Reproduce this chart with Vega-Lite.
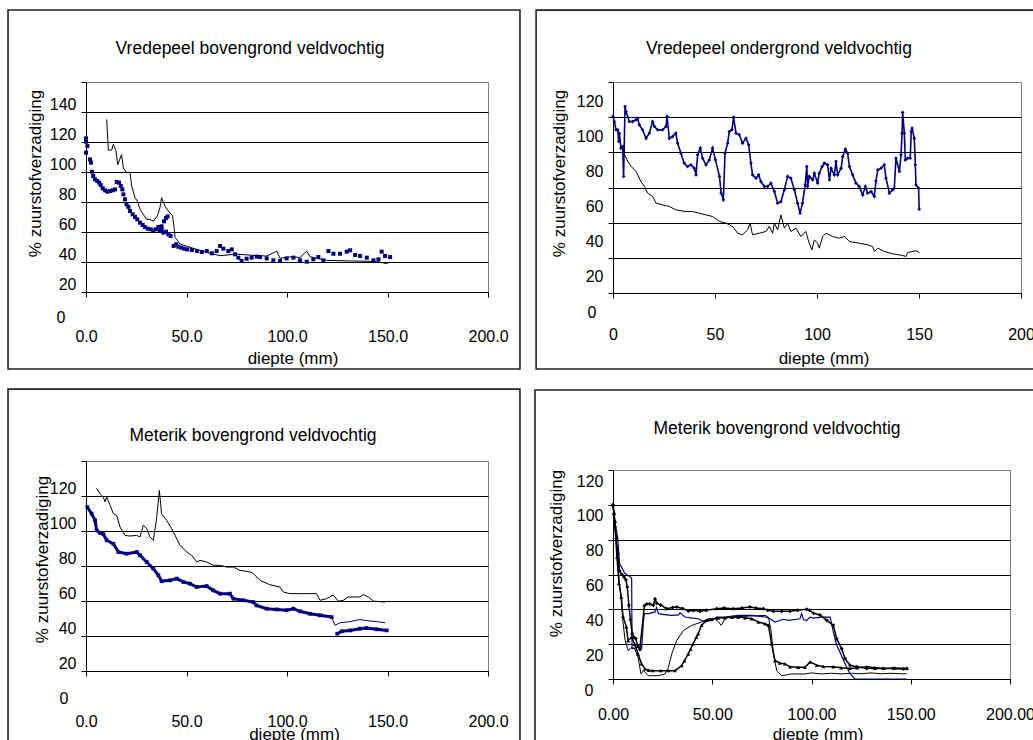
{
  "$schema": "https://vega.github.io/schema/vega-lite/v6.json",
  "padding": {"left": 6, "top": 8, "right": 0, "bottom": 0},
  "spacing": 11,
  "datasets": {
    "p1b": [{"d":0,"v":102.4},{"d":0,"v":100.2},{"d":0.7,"v":97.3},{"d":0,"v":92.9},{"d":2,"v":88.4},{"d":2.5,"v":86.2},{"d":3,"v":80.2},{"d":3.6,"v":77.3},{"d":4.5,"v":75.1},{"d":5.6,"v":74},{"d":6.6,"v":72.9},{"d":7.3,"v":71.3},{"d":8.3,"v":69.1},{"d":9.5,"v":67.8},{"d":10.6,"v":66.9},{"d":11.9,"v":67.3},{"d":13.3,"v":67.8},{"d":14.4,"v":68.4},{"d":15.3,"v":73.3},{"d":16.4,"v":72.9},{"d":17.3,"v":70.7},{"d":18.1,"v":68.4},{"d":18.6,"v":65.1},{"d":19.4,"v":61.8},{"d":20.2,"v":58.4},{"d":21.1,"v":56.7},{"d":21.9,"v":54},{"d":23.2,"v":51.8},{"d":24.4,"v":50},{"d":25.5,"v":48.4},{"d":26.9,"v":46.2},{"d":28.2,"v":44.7},{"d":29.4,"v":43.3},{"d":30.7,"v":42.2},{"d":32.2,"v":41.8},{"d":33.5,"v":41.1},{"d":34.8,"v":41.8},{"d":36,"v":43.3},{"d":36.8,"v":40.7},{"d":37.6,"v":41.8},{"d":38.5,"v":39.6},{"d":39.8,"v":40.2},{"d":41,"v":38.4},{"d":42.1,"v":37.3},{"d":37.6,"v":43.8},{"d":38.8,"v":47.1},{"d":39.8,"v":49.3},{"d":40.6,"v":50.4},{"d":43.6,"v":30.7},{"d":44.8,"v":31.8},{"d":45.9,"v":30.2},{"d":47.3,"v":29.6},{"d":48.8,"v":28.9},{"d":50.4,"v":28.4},{"d":52.7,"v":28},{"d":55.2,"v":27.3},{"d":57.6,"v":26.7},{"d":60.1,"v":27.3},{"d":62.6,"v":25.8},{"d":65,"v":27.3},{"d":66.7,"v":30.7},{"d":68.3,"v":28.9},{"d":70.8,"v":27.3},{"d":72.5,"v":28.4},{"d":74.1,"v":25.1},{"d":75.8,"v":22.9},{"d":77.4,"v":20.7},{"d":79.9,"v":22.2},{"d":82.4,"v":22.9},{"d":84.9,"v":23.6},{"d":86.6,"v":23.3},{"d":89.9,"v":22.4},{"d":93.2,"v":21.1},{"d":96.5,"v":20.7},{"d":99.8,"v":22.4},{"d":103.2,"v":22.9},{"d":106.5,"v":21.1},{"d":109.8,"v":20.2},{"d":113.1,"v":21.8},{"d":115.6,"v":23.3},{"d":118.1,"v":21.1},{"d":120.6,"v":27.3},{"d":123.1,"v":25.5},{"d":126.4,"v":25.5},{"d":129.7,"v":26.9},{"d":131.4,"v":27.8},{"d":133.9,"v":24.7},{"d":136.4,"v":24},{"d":139.7,"v":22.9},{"d":143,"v":21.1},{"d":145.5,"v":21.8},{"d":147.1,"v":26.9},{"d":148.8,"v":24},{"d":151.3,"v":23.3}],
    "p1z": [{"d":10.3,"v":115.1},{"d":11.1,"v":94.6},{"d":12.8,"v":94.6},{"d":13.6,"v":98.4},{"d":14.9,"v":94.2},{"d":15.8,"v":84.9},{"d":17.7,"v":91.6},{"d":18.6,"v":82.7},{"d":20.2,"v":79.8},{"d":21.9,"v":79.8},{"d":22.7,"v":70.7},{"d":24.4,"v":62.9},{"d":25.5,"v":60.7},{"d":26.9,"v":55.1},{"d":28.5,"v":51.8},{"d":30.2,"v":48.4},{"d":31.8,"v":48.4},{"d":33.5,"v":47.3},{"d":35.5,"v":50.7},{"d":36.8,"v":56.2},{"d":37.6,"v":62.9},{"d":39.3,"v":57.3},{"d":41,"v":54},{"d":43.1,"v":50.7},{"d":43.8,"v":43.1},{"d":44.3,"v":36.4},{"d":46.8,"v":32},{"d":51.7,"v":29.8},{"d":60.1,"v":26.4},{"d":66.7,"v":24.2},{"d":75,"v":25.3},{"d":85,"v":24.2},{"d":90,"v":24},{"d":94.9,"v":27.3},{"d":96.5,"v":22.5},{"d":102,"v":23.5},{"d":106.5,"v":23},{"d":109.8,"v":27.3},{"d":111.5,"v":23.5},{"d":119.7,"v":21.1},{"d":131.3,"v":20.7},{"d":140,"v":20.5},{"d":145,"v":20.2},{"d":149.6,"v":18.9},{"d":151.1,"v":20}],
    "p2b": [{"d":0,"v":100.4},{"d":0.65,"v":97.5},{"d":1.5,"v":92.8},{"d":2.3,"v":92.8},{"d":2.8,"v":86.2},{"d":3.1,"v":90.9},{"d":3.9,"v":82.4},{"d":4.7,"v":83.3},{"d":5.2,"v":66.3},{"d":5.9,"v":106},{"d":6.4,"v":103.2},{"d":8,"v":97.5},{"d":9.6,"v":97.5},{"d":11.3,"v":98.5},{"d":12.1,"v":99.4},{"d":12.9,"v":95.6},{"d":14.5,"v":92.8},{"d":16.2,"v":88},{"d":17.8,"v":90.9},{"d":19.4,"v":97.5},{"d":20.3,"v":94.7},{"d":21.9,"v":92.8},{"d":24.3,"v":92.8},{"d":26,"v":94.7},{"d":26.5,"v":100.4},{"d":27.6,"v":88},{"d":29.2,"v":89},{"d":30.8,"v":90.9},{"d":31.7,"v":85.2},{"d":33.3,"v":79.5},{"d":34.9,"v":73.8},{"d":36.5,"v":71.9},{"d":38.2,"v":72.9},{"d":39.8,"v":71},{"d":40.7,"v":67.2},{"d":41.5,"v":78.6},{"d":42.8,"v":82.4},{"d":43.9,"v":76.7},{"d":45.6,"v":72.9},{"d":47.2,"v":75.7},{"d":48.8,"v":82.4},{"d":50.2,"v":75.7},{"d":52.2,"v":66.3},{"d":53,"v":56.8},{"d":54.1,"v":53},{"d":54.9,"v":79.5},{"d":56.2,"v":85.2},{"d":57,"v":91.8},{"d":58.3,"v":92.8},{"d":59.1,"v":100},{"d":60.3,"v":90.9},{"d":61.9,"v":90},{"d":63.5,"v":85.2},{"d":65.2,"v":88},{"d":66.5,"v":84.3},{"d":67.6,"v":73.8},{"d":68.4,"v":67.2},{"d":70.1,"v":65.3},{"d":71.4,"v":67.2},{"d":72.5,"v":63.4},{"d":74.2,"v":60.6},{"d":75.8,"v":60.6},{"d":77.4,"v":62.5},{"d":79.1,"v":57.7},{"d":80.7,"v":51.1},{"d":82.3,"v":52},{"d":84,"v":58.7},{"d":85.6,"v":66.3},{"d":87.2,"v":65.3},{"d":88.9,"v":58.7},{"d":90.5,"v":51.1},{"d":91.7,"v":45.4},{"d":92.9,"v":51.1},{"d":94.2,"v":61.5},{"d":95,"v":71.9},{"d":95.4,"v":60.6},{"d":96.2,"v":66.3},{"d":97.9,"v":64.4},{"d":98.7,"v":68.1},{"d":100.3,"v":62.5},{"d":101.1,"v":68.1},{"d":102.5,"v":71.9},{"d":103.6,"v":73.8},{"d":105.2,"v":72.9},{"d":106.1,"v":64.4},{"d":106.9,"v":70.9},{"d":108.5,"v":67.2},{"d":109.3,"v":74.8},{"d":110.1,"v":67.2},{"d":111.8,"v":70.9},{"d":112.6,"v":77.6},{"d":113.9,"v":81.8},{"d":115,"v":79.5},{"d":115.9,"v":71.9},{"d":117.5,"v":67.2},{"d":119.1,"v":62.5},{"d":120.7,"v":60.6},{"d":122.4,"v":55.8},{"d":123.7,"v":60.6},{"d":124.8,"v":56.8},{"d":126.5,"v":57.7},{"d":128.1,"v":54.9},{"d":128.9,"v":63.8},{"d":129.8,"v":70},{"d":131.4,"v":71},{"d":133,"v":72.9},{"d":133.8,"v":65.3},{"d":135.5,"v":56.8},{"d":137.1,"v":58.7},{"d":137.9,"v":59.6},{"d":138.7,"v":76.7},{"d":140.4,"v":69.1},{"d":141.2,"v":78.6},{"d":141.7,"v":90.9},{"d":142,"v":102.7},{"d":142.8,"v":90.9},{"d":143.3,"v":75.7},{"d":144.4,"v":76.7},{"d":145.7,"v":76.7},{"d":146.2,"v":91.8},{"d":146.6,"v":93.7},{"d":147.7,"v":88},{"d":148.2,"v":72.9},{"d":148.5,"v":61.5},{"d":149.8,"v":59.6},{"d":150.1,"v":47.7}],
    "p2z": [{"d":4.8,"v":83},{"d":5.7,"v":78.6},{"d":7.3,"v":74.8},{"d":9,"v":71.9},{"d":11.3,"v":69.1},{"d":13.7,"v":63.4},{"d":15.4,"v":60.6},{"d":17,"v":56.8},{"d":19.4,"v":54.9},{"d":21.1,"v":51.1},{"d":24.3,"v":50.1},{"d":27.6,"v":49.2},{"d":30.8,"v":47.3},{"d":35.7,"v":46.3},{"d":39,"v":46.3},{"d":42.3,"v":45.4},{"d":45.6,"v":44.4},{"d":48.8,"v":43.5},{"d":52.2,"v":40.7},{"d":55.4,"v":39.7},{"d":58.7,"v":37.8},{"d":61.1,"v":34},{"d":63.5,"v":33.1},{"d":66,"v":35.9},{"d":67.2,"v":39.7},{"d":68.4,"v":33.1},{"d":71.7,"v":34},{"d":75,"v":35},{"d":76.6,"v":37.8},{"d":78.2,"v":34},{"d":79.1,"v":39.7},{"d":80.7,"v":35.9},{"d":82.3,"v":44.4},{"d":84,"v":36.9},{"d":85.6,"v":39.7},{"d":87.2,"v":35},{"d":89.7,"v":36.9},{"d":92.1,"v":32.1},{"d":94.5,"v":35},{"d":96.2,"v":28.3},{"d":97.5,"v":24.5},{"d":98.7,"v":30.2},{"d":100.3,"v":28.3},{"d":101.1,"v":25.5},{"d":102.8,"v":32.1},{"d":104.4,"v":34},{"d":107.7,"v":32.1},{"d":110.9,"v":31.2},{"d":113.4,"v":32.1},{"d":115.9,"v":29.3},{"d":120.7,"v":28.3},{"d":124.8,"v":27.4},{"d":127.3,"v":26.4},{"d":128.1,"v":23.6},{"d":129.8,"v":25.5},{"d":133,"v":23.6},{"d":137.1,"v":22.3},{"d":141.2,"v":21.5},{"d":143.6,"v":20.8},{"d":144.4,"v":23},{"d":146.9,"v":23.6},{"d":148.5,"v":24.1},{"d":150.1,"v":23}],
    "p3a": [{"d":0.65,"v":93.7},{"d":2.8,"v":89.9},{"d":4.5,"v":86.1},{"d":5.3,"v":80.4},{"d":7,"v":78.9},{"d":8.6,"v":78.3},{"d":10.3,"v":74.7},{"d":13.6,"v":72.7},{"d":16.1,"v":68},{"d":20.2,"v":67},{"d":25.2,"v":68},{"d":26.9,"v":66.1},{"d":30.2,"v":62.3},{"d":33.5,"v":58.5},{"d":36,"v":54.7},{"d":37.6,"v":51.3},{"d":41.8,"v":51.8},{"d":45.1,"v":52.8},{"d":48.4,"v":50.9},{"d":51.7,"v":49.9},{"d":55.1,"v":48},{"d":60,"v":48.5},{"d":63.3,"v":46.1},{"d":66.7,"v":44.2},{"d":71.6,"v":44.2},{"d":73.3,"v":41.3},{"d":78.3,"v":40.4},{"d":83.2,"v":39.4},{"d":84.8,"v":37.5},{"d":89.9,"v":35.6},{"d":94.9,"v":35.2},{"d":99.8,"v":34.7},{"d":103.2,"v":35.6},{"d":106.5,"v":34.1},{"d":111.4,"v":32.7},{"d":116.4,"v":31.8},{"d":122.2,"v":30.8}],
    "p3a2": [{"d":122.2,"v":30.8},{"d":123.9,"v":26.1},{"d":126.5,"v":27.6},{"d":131.4,"v":28.2},{"d":136.3,"v":29.4},{"d":139.6,"v":28.8},{"d":144.6,"v":28.2},{"d":148.8,"v":27.6}],
    "p3b": [{"d":125,"v":21.3},{"d":127.3,"v":22.7},{"d":131.4,"v":23.2},{"d":136.3,"v":24.2},{"d":139.6,"v":24.5},{"d":144.6,"v":23.8},{"d":149.6,"v":23.2}],
    "p3z": [{"d":5.3,"v":104.2},{"d":7,"v":101.3},{"d":8.6,"v":99.4},{"d":9.5,"v":96.6},{"d":10.3,"v":99.4},{"d":12,"v":94.7},{"d":13.6,"v":89.9},{"d":15.3,"v":88.9},{"d":16.9,"v":82.3},{"d":19.4,"v":77.5},{"d":21.9,"v":77.1},{"d":25.2,"v":77.5},{"d":26.9,"v":76.6},{"d":28.5,"v":83.3},{"d":30.2,"v":81.4},{"d":31.8,"v":76.6},{"d":33.5,"v":74.7},{"d":35.1,"v":87},{"d":36.5,"v":103.2},{"d":37.6,"v":89.9},{"d":40.1,"v":86.1},{"d":42.6,"v":81.4},{"d":46.8,"v":71.8},{"d":50.1,"v":68},{"d":52.6,"v":66.1},{"d":55.1,"v":62.3},{"d":56.7,"v":63.2},{"d":60,"v":62.3},{"d":63.3,"v":60.4},{"d":66.7,"v":60.4},{"d":70,"v":59.4},{"d":73.3,"v":59.4},{"d":76.6,"v":57.5},{"d":81.6,"v":56.6},{"d":83.2,"v":55.7},{"d":86.6,"v":51.8},{"d":91.5,"v":49.3},{"d":96.5,"v":48},{"d":98.2,"v":45.1},{"d":101.5,"v":44.2},{"d":106.5,"v":44.2},{"d":114.8,"v":44.2},{"d":116.4,"v":40.4},{"d":119.7,"v":41.3},{"d":123,"v":43.5},{"d":125.5,"v":39.9},{"d":128,"v":40.4},{"d":130.5,"v":42.3},{"d":136.3,"v":42.3},{"d":137.9,"v":43.7},{"d":140.5,"v":42.3},{"d":143,"v":39.9},{"d":148.8,"v":39.4}],
    "p4s1": [{"d":0,"v":100},{"d":0.5,"v":95},{"d":1,"v":90},{"d":1.6,"v":80.6},{"d":2.4,"v":72},{"d":3.3,"v":62},{"d":4.5,"v":60},{"d":5.5,"v":58.6},{"d":6.5,"v":57},{"d":7.2,"v":52.8},{"d":8,"v":42.3},{"d":8.8,"v":34},{"d":9.7,"v":26},{"d":10.5,"v":24},{"d":11.4,"v":23.2},{"d":12.5,"v":19},{"d":13.5,"v":17},{"d":15.8,"v":42},{"d":17,"v":43},{"d":18.5,"v":43},{"d":20.3,"v":42.3},{"d":21.2,"v":46},{"d":22,"v":43.5},{"d":24,"v":42.5},{"d":27,"v":40.4},{"d":30,"v":41},{"d":32.1,"v":41.3},{"d":35,"v":40.5},{"d":38,"v":39},{"d":40.4,"v":39.4},{"d":43.8,"v":38.9},{"d":47,"v":39.5},{"d":52.2,"v":40.4},{"d":56,"v":40.8},{"d":60.6,"v":40.4},{"d":65,"v":40.8},{"d":69,"v":41.3},{"d":72,"v":40.8},{"d":75.8,"v":40.4},{"d":78,"v":39.5},{"d":80.8,"v":38.9},{"d":85,"v":38.9},{"d":89.2,"v":38.9},{"d":93,"v":39.5},{"d":97.6,"v":40},{"d":99,"v":39.5},{"d":101,"v":37.7},{"d":104.3,"v":36.8},{"d":107.7,"v":33.7},{"d":111,"v":30.8},{"d":112.7,"v":23.1},{"d":115.2,"v":17.4},{"d":116.9,"v":11.7},{"d":119.4,"v":7.9},{"d":122.8,"v":7},{"d":127.8,"v":6.1},{"d":132,"v":6},{"d":136.2,"v":6.1},{"d":141,"v":6},{"d":146.3,"v":5.7},{"d":148,"v":6.1}],
    "p4s2": [{"d":0,"v":100},{"d":1,"v":90},{"d":2.4,"v":80.8},{"d":3.3,"v":66.3},{"d":6,"v":60.6},{"d":8.6,"v":58.7},{"d":9.4,"v":58},{"d":9.6,"v":17.4},{"d":12.6,"v":18.3},{"d":14.4,"v":17.3},{"d":15.3,"v":32.7},{"d":15.8,"v":37.5},{"d":18,"v":37.5},{"d":21.2,"v":38.5},{"d":21.9,"v":41},{"d":22.9,"v":37.5},{"d":26,"v":37},{"d":29.6,"v":36.5},{"d":33,"v":36.8},{"d":33.8,"v":38},{"d":36.3,"v":35.6},{"d":40,"v":35},{"d":43,"v":34.6},{"d":46.3,"v":32.7},{"d":50,"v":34},{"d":52.2,"v":35.5},{"d":56.4,"v":35.6},{"d":63.1,"v":36.5},{"d":69.9,"v":36.5},{"d":74,"v":36},{"d":76.6,"v":35.6},{"d":79.1,"v":34.6},{"d":81.6,"v":32.7},{"d":85.8,"v":34.3},{"d":88.3,"v":33.7},{"d":94.2,"v":34.6},{"d":95,"v":37.5},{"d":96,"v":34},{"d":97.6,"v":33.7},{"d":99.3,"v":35.5},{"d":101,"v":35},{"d":105,"v":35.5},{"d":109.4,"v":35.5},{"d":111,"v":27},{"d":112.7,"v":19.4},{"d":114.5,"v":15},{"d":116.9,"v":8.8},{"d":119.4,"v":3},{"d":121.9,"v":0},{"d":130,"v":0},{"d":140,"v":0},{"d":148,"v":0}],
    "p4s3": [{"d":0,"v":100},{"d":0.5,"v":95},{"d":1,"v":88},{"d":2,"v":70},{"d":3,"v":55},{"d":4.2,"v":47},{"d":5,"v":36},{"d":6.7,"v":30},{"d":7.6,"v":22},{"d":9.3,"v":24},{"d":11,"v":20},{"d":12.6,"v":14.4},{"d":14.4,"v":8.7},{"d":16.1,"v":5.8},{"d":18,"v":5},{"d":20,"v":4.8},{"d":24,"v":4.8},{"d":28,"v":4.8},{"d":31.2,"v":4.8},{"d":34.6,"v":7.7},{"d":36,"v":10.5},{"d":37.9,"v":14.4},{"d":39,"v":17},{"d":40.4,"v":20.2},{"d":42,"v":24},{"d":42.9,"v":26},{"d":44.6,"v":30.8},{"d":47.1,"v":33.7},{"d":49.7,"v":34.2},{"d":53,"v":35},{"d":56.4,"v":35.2},{"d":60,"v":35.5},{"d":63.1,"v":35.6},{"d":66.5,"v":35.2},{"d":69.9,"v":34.6},{"d":73.2,"v":32.7},{"d":76.6,"v":31.7},{"d":78.3,"v":30.8},{"d":79.9,"v":20.2},{"d":81.6,"v":10.6},{"d":84,"v":9.2},{"d":86.6,"v":8.7},{"d":89.2,"v":7},{"d":93.3,"v":6.7},{"d":96.7,"v":6.7},{"d":99.3,"v":9.8},{"d":102.7,"v":7.9},{"d":106,"v":7.2},{"d":111,"v":7},{"d":115,"v":6.5},{"d":119.4,"v":6.1},{"d":123,"v":6.5},{"d":127.8,"v":7},{"d":132,"v":6.5},{"d":136.2,"v":6.1},{"d":142,"v":6.3},{"d":148,"v":6.1}],
    "p4s4": [{"d":0,"v":100},{"d":1,"v":88},{"d":2,"v":72},{"d":3,"v":58},{"d":4.2,"v":45},{"d":5,"v":33},{"d":6.1,"v":22.1},{"d":7.7,"v":16.3},{"d":9,"v":18},{"d":11,"v":17.3},{"d":12.6,"v":12.5},{"d":14.1,"v":2.9},{"d":15.3,"v":4.8},{"d":17.8,"v":1.9},{"d":20,"v":1.9},{"d":22.9,"v":1.9},{"d":26.2,"v":2.9},{"d":27.9,"v":6.7},{"d":29.6,"v":14.4},{"d":32.1,"v":22.1},{"d":35.5,"v":27.9},{"d":39.7,"v":30.8},{"d":44.6,"v":32.7},{"d":48,"v":34.6},{"d":51.3,"v":34.6},{"d":53,"v":33},{"d":54.5,"v":30.8},{"d":56,"v":33.5},{"d":57.3,"v":35.6},{"d":62,"v":35.8},{"d":66.5,"v":36},{"d":72,"v":36.3},{"d":76.6,"v":36.5},{"d":78.3,"v":35.5},{"d":79.6,"v":27.9},{"d":80.8,"v":14.4},{"d":82.5,"v":4.8},{"d":85,"v":1.9},{"d":88,"v":2.5},{"d":90,"v":2.9},{"d":96.7,"v":2.9},{"d":100,"v":3.5},{"d":105,"v":2.9},{"d":110,"v":3.3},{"d":115,"v":2.9},{"d":120,"v":3.3},{"d":125,"v":3},{"d":130,"v":3.5},{"d":135,"v":3},{"d":140,"v":3.3},{"d":145,"v":3},{"d":148,"v":3}]
  },
  "hconcat": [
    {
      "spacing": 16,
      "vconcat": [
        {
          "width": 402, "height": 210,
          "title": {"text": "Vredepeel bovengrond veldvochtig", "frame": "group", "anchor": "middle", "dx": -37, "offset": -48},
          "layer": [
            {"data": {"values": [{}]}, "mark": {"type": "rect", "filled": false, "stroke": "#222222", "strokeWidth": 1.6},
             "encoding": {
               "x": {"datum": -38.8, "type": "quantitative", "scale": {"domain": [0, 200], "nice": false, "zero": false},
                     "axis": {"values": [0, 50, 100, 150, 200], "format": ".1f", "labelPadding": 39, "title": "diepte (mm)", "titleX": 206.5, "titleY": 66}},
               "x2": {"datum": 215.9},
               "y": {"datum": 188, "type": "quantitative", "scale": {"domain": [0, 140], "nice": false},
                     "axis": {"values": [0, 20, 40, 60, 80, 100, 120, 140], "labelOffset": {"condition": {"test": "datum.value === 0", "value": 25}, "value": 22},
                              "labelPadding": {"condition": {"test": "datum.value === 0", "value": 16}, "value": 5},
                              "title": "% zuurstofverzadiging", "titleX": -51, "titleY": 91,
                              "gridColor": {"condition": {"test": "datum.value >= 140", "value": "#808080"}, "value": "black"}}},
               "y2": {"datum": -51.3}}},
            {
              "encoding": {
                "x": {"field": "d", "type": "quantitative", "scale": {"domain": [0, 200], "nice": false, "zero": false},
                      "axis": {"values": [0, 50, 100, 150, 200], "format": ".1f", "labelPadding": 39, "title": "diepte (mm)", "titleX": 206.5, "titleY": 66}},
                "y": {"field": "v", "type": "quantitative", "scale": {"domain": [0, 140], "nice": false},
                      "axis": {"values": [0, 20, 40, 60, 80, 100, 120, 140], "labelOffset": {"condition": {"test": "datum.value === 0", "value": 25}, "value": 22},
                               "labelPadding": {"condition": {"test": "datum.value === 0", "value": 16}, "value": 5},
                               "title": "% zuurstofverzadiging", "titleX": -51, "titleY": 91,
                               "gridColor": {"condition": {"test": "datum.value >= 140", "value": "#808080"}, "value": "black"}}}
              },
              "layer": [
                {"data": {"name": "p1z"}, "mark": {"type": "line", "color": "black", "strokeWidth": 1}},
                {"data": {"name": "p1b"}, "mark": {"type": "point", "shape": "square", "filled": true, "size": 16, "color": "#000080", "opacity": 1}}
              ]
            }
          ]
        },
        {
          "width": 402, "height": 210,
          "title": {"text": "Meterik bovengrond veldvochtig", "frame": "group", "anchor": "middle", "dx": -34, "offset": -56},
          "layer": [
            {"data": {"values": [{}]}, "mark": {"type": "rect", "filled": false, "stroke": "#222222", "strokeWidth": 1.6},
             "encoding": {
               "x": {"datum": -38.8, "type": "quantitative", "scale": {"domain": [0, 200], "nice": false, "zero": false},
                     "axis": {"values": [0, 50, 100, 150, 200], "format": ".1f", "labelPadding": 45, "title": "diepte (mm)", "titleX": 208, "titleY": 63}},
               "x2": {"datum": 215.9},
               "y": {"datum": 161.1, "type": "quantitative", "scale": {"domain": [0, 120], "nice": false},
                     "axis": {"values": [0, 20, 40, 60, 80, 100, 120], "labelOffset": 27,
                              "labelPadding": {"condition": {"test": "datum.value === 0", "value": 13}, "value": 5},
                              "title": "% zuurstofverzadiging", "titleX": -44, "titleY": 98,
                              "gridColor": {"condition": {"test": "datum.value >= 120", "value": "#808080"}, "value": "black"}}},
               "y2": {"datum": -45.1}}},
            {
              "encoding": {
                "x": {"field": "d", "type": "quantitative", "scale": {"domain": [0, 200], "nice": false, "zero": false},
                      "axis": {"values": [0, 50, 100, 150, 200], "format": ".1f", "labelPadding": 45, "title": "diepte (mm)", "titleX": 208, "titleY": 63}},
                "y": {"field": "v", "type": "quantitative", "scale": {"domain": [0, 120], "nice": false},
                      "axis": {"values": [0, 20, 40, 60, 80, 100, 120], "labelOffset": 27,
                               "labelPadding": {"condition": {"test": "datum.value === 0", "value": 13}, "value": 5},
                               "title": "% zuurstofverzadiging", "titleX": -44, "titleY": 98,
                               "gridColor": {"condition": {"test": "datum.value >= 120", "value": "#808080"}, "value": "black"}}}
              },
              "layer": [
                {"data": {"name": "p3z"}, "mark": {"type": "line", "color": "black", "strokeWidth": 1}},
                {"data": {"name": "p3a2"}, "mark": {"type": "line", "color": "#000080", "strokeWidth": 1}},
                {"data": {"name": "p3a"}, "mark": {"type": "line", "color": "#000080", "strokeWidth": 3, "point": {"shape": "square", "filled": true, "size": 14, "color": "#000080"}}},
                {"data": {"name": "p3b"}, "mark": {"type": "line", "color": "#000080", "strokeWidth": 3, "point": {"shape": "square", "filled": true, "size": 14, "color": "#000080"}}}
              ]
            }
          ]
        }
      ]
    },
    {
      "spacing": 17,
      "vconcat": [
        {
          "width": 408, "height": 211,
          "title": {"text": "Vredepeel ondergrond veldvochtig", "frame": "group", "anchor": "middle", "dx": -38, "offset": -48},
          "layer": [
            {"data": {"values": [{}]}, "mark": {"type": "rect", "filled": false, "stroke": "#222222", "strokeWidth": 1.6},
             "encoding": {
               "x": {"datum": -37.7, "type": "quantitative", "scale": {"domain": [0, 200], "nice": false, "zero": false},
                     "axis": {"values": [0, 50, 100, 150, 200], "format": "d", "labelPadding": 36, "title": "diepte (mm)", "titleX": 210.5, "titleY": 65}},
               "x2": {"datum": 209.8},
               "y": {"datum": 160.9, "type": "quantitative", "scale": {"domain": [0, 120], "nice": false},
                     "axis": {"values": [0, 20, 40, 60, 80, 100, 120], "labelOffset": 19,
                              "labelPadding": {"condition": {"test": "datum.value === 0", "value": 12}, "value": 5},
                              "title": "% zuurstofverzadiging", "titleX": -54, "titleY": 91,
                              "gridColor": {"condition": {"test": "datum.value >= 120", "value": "#808080"}, "value": "black"}}},
               "y2": {"datum": -43.2}}},
            {
              "encoding": {
                "x": {"field": "d", "type": "quantitative", "scale": {"domain": [0, 200], "nice": false, "zero": false},
                      "axis": {"values": [0, 50, 100, 150, 200], "format": "d", "labelPadding": 36, "title": "diepte (mm)", "titleX": 210.5, "titleY": 65}},
                "y": {"field": "v", "type": "quantitative", "scale": {"domain": [0, 120], "nice": false},
                      "axis": {"values": [0, 20, 40, 60, 80, 100, 120], "labelOffset": 19,
                               "labelPadding": {"condition": {"test": "datum.value === 0", "value": 12}, "value": 5},
                               "title": "% zuurstofverzadiging", "titleX": -54, "titleY": 91,
                               "gridColor": {"condition": {"test": "datum.value >= 120", "value": "#808080"}, "value": "black"}}}
              },
              "layer": [
                {"data": {"name": "p2z"}, "mark": {"type": "line", "color": "black", "strokeWidth": 1}},
                {"data": {"name": "p2b"}, "mark": {"type": "line", "color": "#000080", "strokeWidth": 1.6, "point": {"shape": "diamond", "filled": true, "size": 14, "color": "#000080"}}}
              ]
            }
          ]
        },
        {
          "width": 397, "height": 209,
          "title": {"text": "Meterik bovengrond veldvochtig", "frame": "group", "anchor": "middle", "dx": -34.5, "offset": -48},
          "layer": [
            {"data": {"values": [{}]}, "mark": {"type": "rect", "filled": false, "stroke": "#222222", "strokeWidth": 1.6},
             "encoding": {
               "x": {"datum": -39.3, "type": "quantitative", "scale": {"domain": [0, 200], "nice": false, "zero": false},
                     "axis": {"values": [0, 50, 100, 150, 200], "format": ".2f", "labelPadding": 30, "title": "diepte (mm)", "titleX": 204.5, "titleY": 55}},
               "x2": {"datum": 215.1},
               "y": {"datum": 165.9, "type": "quantitative", "scale": {"domain": [0, 120], "nice": false},
                     "axis": {"values": [0, 20, 40, 60, 80, 100, 120], "labelOffset": 11,
                              "labelPadding": {"condition": {"test": "datum.value === 0", "value": 15}, "value": 5},
                              "title": "% zuurstofverzadiging", "titleX": -57, "titleY": 83,
                              "gridColor": {"condition": {"test": "datum.value >= 120", "value": "#808080"}, "value": "black"}}},
               "y2": {"datum": -40.8}}},
            {
              "encoding": {
                "x": {"field": "d", "type": "quantitative", "scale": {"domain": [0, 200], "nice": false, "zero": false},
                      "axis": {"values": [0, 50, 100, 150, 200], "format": ".2f", "labelPadding": 30, "title": "diepte (mm)", "titleX": 204.5, "titleY": 55}},
                "y": {"field": "v", "type": "quantitative", "scale": {"domain": [0, 120], "nice": false},
                      "axis": {"values": [0, 20, 40, 60, 80, 100, 120], "labelOffset": 11,
                               "labelPadding": {"condition": {"test": "datum.value === 0", "value": 15}, "value": 5},
                               "title": "% zuurstofverzadiging", "titleX": -57, "titleY": 83,
                               "gridColor": {"condition": {"test": "datum.value >= 120", "value": "#808080"}, "value": "black"}}}
              },
              "layer": [
                {"data": {"name": "p4s4"}, "mark": {"type": "line", "color": "black", "strokeWidth": 1}},
                {"data": {"name": "p4s2"}, "mark": {"type": "line", "color": "#00008f", "strokeWidth": 1.2}},
                {"data": {"name": "p4s3"}, "mark": {"type": "line", "color": "black", "strokeWidth": 1.5, "point": {"shape": "triangle-up", "filled": true, "size": 16, "color": "black"}}},
                {"data": {"name": "p4s1"}, "mark": {"type": "line", "color": "black", "strokeWidth": 1.5, "point": {"shape": "diamond", "filled": true, "size": 16, "color": "black"}}}
              ]
            }
          ]
        }
      ]
    }
  ],
  "config": {
    "font": "Liberation Sans",
    "background": "white",
    "view": {"stroke": "#808080", "strokeWidth": 1},
    "title": {"font": "Liberation Sans", "fontSize": 17.5, "fontWeight": "normal", "color": "black"},
    "axis": {
      "labelFont": "Liberation Sans", "labelFontSize": 16, "labelColor": "black",
      "titleFont": "Liberation Sans", "titleFontSize": 17, "titleFontWeight": "normal", "titleColor": "black",
      "titleAlign": "center", "titleBaseline": "middle",
      "domainColor": "black", "domainWidth": 1, "tickColor": "black", "tickSize": 5, "tickWidth": 1,
      "gridColor": "black", "gridWidth": 1, "gridOpacity": 1
    },
    "axisX": {"grid": false, "labelFlush": false, "labelBaseline": "middle", "labelOverlap": false},
    "axisY": {"grid": true, "labelOverlap": false}
  }
}
